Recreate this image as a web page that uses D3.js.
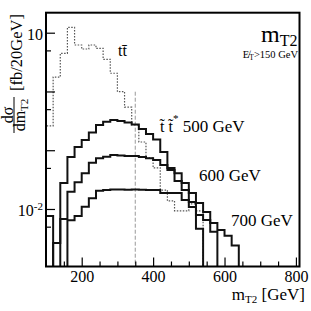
<!DOCTYPE html>
<html>
<head>
<meta charset="utf-8">
<script src="https://cdn.jsdelivr.net/npm/d3@7.9.0/dist/d3.min.js"></script>
<style>
  html, body { margin: 0; padding: 0; background: #fff; }
  svg { display: block; font-family: "Liberation Serif", "Times New Roman", serif; }
</style>
</head>
<body>
<svg id="chart" width="311" height="311"></svg>
<script>
// histogram bins: 20 GeV wide, first bin starts at 100 GeV
const binStart = 100;
const binWidth = 20;

// d(sigma)/d(mT2) in fb/20GeV, one value per bin
const ttbar   = [0.26, 1.76, 4.46, 12.3, 6.18, 5.28, 6.18, 5.43, 3.53, 2.04, 0.99, 0.54,
                 0.27, 0.138, 0.074, 0.05, 0.021, 0.0137, 0.0093, 0.0093, 0.0122, 0.0093];
const stop500 = [0.0076, 0, 0.0277, 0.0767, 0.1135, 0.149, 0.2, 0.269, 0.306, 0.327, 0.3145,
                 0.2965, 0.274, 0.23, 0.189, 0.152, 0.093, 0.05, 0.03, 0.021, 0.0132, 0.0046];
const stop600 = [0, 0.00264, 0.00676, 0.0197, 0.0285, 0.0405, 0.0614, 0.0729, 0.0776, 0.083,
                 0.0814, 0.0798, 0.0798, 0.0767, 0.0729, 0.0682, 0.0561, 0.0461, 0.0405,
                 0.0277, 0.0187, 0.0127, 0.0089, 0.0041];
const stop700 = [0, 0, 0, 0.0064, 0.0076, 0.0109, 0.0152, 0.0205, 0.0211, 0.0215, 0.0214,
                 0.0213, 0.0215, 0.0212, 0.021, 0.021, 0.0187, 0.0187, 0.0187, 0.0142, 0.0108,
                 0.0079, 0.0065, 0.0058, 0.0044, 0.0035, 0.0024];

// axis ranges and ticks
const xDomain = [100, 810];
const yDomain = [0.00105, 21.9];
const xMajor = [200, 400, 600, 800];
const xMinor = [150, 250, 300, 350, 450, 500, 550, 650, 700, 750];
const yMajor = [10, 1, 0.1, 0.01];
const yMinor = [5, 0.5, 0.05, 0.005];
const cutValue = 350;     // dashed line position (GeV)
const cutTop = 0.99;      // dashed line top

const svg = d3.select('#chart');
const pLeft = 46, pRight = 299.5, pTop = 12.7, pBottom = 266.5;

const x = d3.scaleLinear().domain(xDomain).range([pLeft, pRight]);
const y = d3.scaleLog().domain(yDomain).range([pBottom, pTop]);
const floor = yDomain[0] * 0.5;

svg.append('clipPath').attr('id', 'plot')
  .append('rect').attr('x', pLeft).attr('y', pTop)
  .attr('width', pRight - pLeft).attr('height', pBottom - pTop);

// turn bin contents into a step outline
function histPoints(values) {
  const pts = [[binStart, floor]];
  values.forEach((v, i) => {
    const x0 = binStart + i * binWidth;
    const yv = v > 0 ? v : floor;
    pts.push([x0, yv], [x0 + binWidth, yv]);
  });
  pts.push([binStart + values.length * binWidth, floor]);
  return pts;
}

const line = d3.line().x(d => x(d[0])).y(d => y(d[1]));
const plot = svg.append('g').attr('clip-path', 'url(#plot)');

plot.append('path')
  .attr('d', line(histPoints(ttbar)))
  .attr('fill', 'none').attr('stroke', '#555')
  .attr('stroke-width', 1.2).attr('stroke-dasharray', '1.5,1.5');

plot.append('line')
  .attr('x1', x(cutValue)).attr('x2', x(cutValue))
  .attr('y1', y(cutTop)).attr('y2', pBottom)
  .attr('stroke', '#999').attr('stroke-width', 1).attr('stroke-dasharray', '4,2');

[stop500, stop600, stop700].forEach(series => {
  plot.append('path')
    .attr('d', line(histPoints(series)))
    .attr('fill', 'none').attr('stroke', '#111')
    .attr('stroke-width', 2).attr('stroke-linejoin', 'miter');
});

// axes (ticks point inside the frame)
svg.append('g').attr('transform', `translate(0,${pBottom})`)
  .call(d3.axisBottom(x).tickValues(xMinor).tickSize(-5).tickFormat(''))
  .call(g => g.select('.domain').remove());
const xAx = svg.append('g').attr('transform', `translate(0,${pBottom})`)
  .call(d3.axisBottom(x).tickValues(xMajor).tickSize(-9).tickPadding(4).tickFormat(d3.format('d')))
  .call(g => g.select('.domain').remove());
xAx.selectAll('text').attr('font-size', 16).attr('font-family', 'Liberation Serif').attr('fill', '#000');

svg.append('g').attr('transform', `translate(${pLeft},0)`)
  .call(d3.axisLeft(y).tickValues(yMinor).tickSize(-5).tickFormat(''))
  .call(g => g.select('.domain').remove());
const yAx = svg.append('g').attr('transform', `translate(${pLeft},0)`)
  .call(d3.axisLeft(y).tickValues(yMajor).tickSize(-9).tickPadding(3)
    .tickFormat(d => (d === 10 || d === 0.01) ? '10' : ''))
  .call(g => g.select('.domain').remove());
yAx.selectAll('text').attr('font-size', 16).attr('font-family', 'Liberation Serif')
  .attr('fill', '#000').attr('dy', '0.42em');
yAx.selectAll('.tick').filter(d => d === 0.01).select('text')
  .append('tspan').attr('font-size', 11).attr('dy', -6).text('-2');

svg.selectAll('.tick line').attr('stroke', '#000').attr('stroke-width', 1.2);

// frame
svg.append('rect').attr('x', pLeft).attr('y', pTop)
  .attr('width', pRight - pLeft).attr('height', pBottom - pTop)
  .attr('fill', 'none').attr('stroke', '#000').attr('stroke-width', 2);

// title
const title = svg.append('text').attr('x', 297.5).attr('y', 42)
  .attr('text-anchor', 'end').attr('font-size', 24);
title.append('tspan').text('m');
title.append('tspan').attr('font-size', 16).attr('dy', 4).text('T2');

// missing ET cut
const cut = svg.append('text').attr('x', 298).attr('y', 58)
  .attr('text-anchor', 'end').attr('font-size', 10.5);
cut.append('tspan').text('E\u0338');
cut.append('tspan').attr('font-size', 7.5).attr('dy', 2).text('T');
cut.append('tspan').attr('dy', -2).text('>150 GeV');

// curve labels
svg.append('text').attr('x', 118).attr('y', 56).attr('font-size', 16).text('tt\u0304');

const st = svg.append('text').attr('x', 160).attr('y', 132).attr('font-size', 16);
st.append('tspan').text('t\u0303 t\u0303');
st.append('tspan').attr('font-size', 11).attr('dy', -10).text('*');
st.append('tspan').attr('font-size', 17).attr('dy', 10).text(' 500 GeV');

svg.append('text').attr('x', 199).attr('y', 181).attr('font-size', 17).text('600 GeV');
svg.append('text').attr('x', 231).attr('y', 226).attr('font-size', 17).text('700 GeV');

// x axis title
const xt = svg.append('text').attr('x', 305).attr('y', 300)
  .attr('text-anchor', 'end').attr('font-size', 17);
xt.append('tspan').text('m');
xt.append('tspan').attr('font-size', 11).attr('dy', 3).text('T2');
xt.append('tspan').attr('dy', -3).text(' [GeV]');

// y axis title: fraction + units, rotated
const yt = svg.append('g').attr('font-size', 16);
yt.append('text').attr('transform', 'translate(12.5,115) rotate(-90)')
  .attr('text-anchor', 'middle').text('dσ');
const den = yt.append('text').attr('transform', 'translate(25,115) rotate(-90)')
  .attr('text-anchor', 'middle');
den.append('tspan').text('dm');
den.append('tspan').attr('font-size', 11).attr('dy', 3).text('T2');
yt.append('line').attr('x1', 14).attr('x2', 14).attr('y1', 97).attr('y2', 133)
  .attr('stroke', '#000').attr('stroke-width', 1);
yt.append('text').attr('transform', 'translate(22,91) rotate(-90)')
  .attr('font-size', 16.5).text('[fb/20GeV]');
</script>
</body>
</html>
